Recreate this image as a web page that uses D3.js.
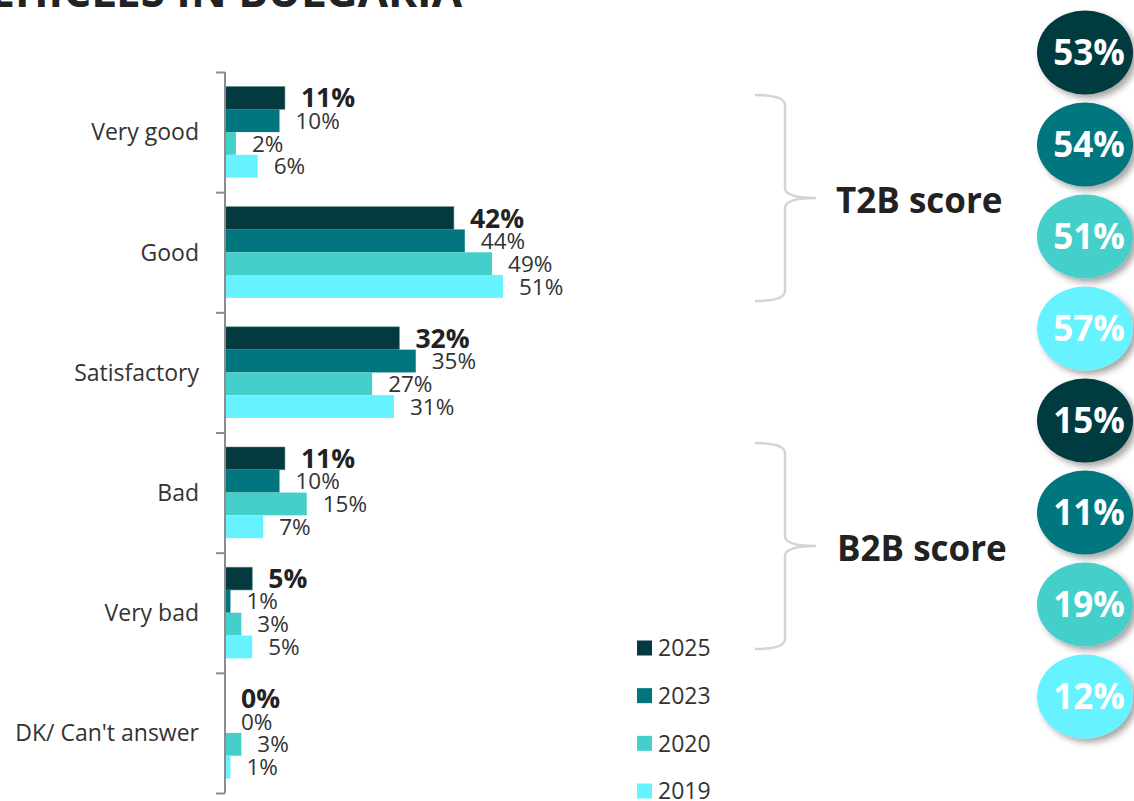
<!DOCTYPE html>
<html>
<head>
<meta charset="utf-8">
<script src="https://cdn.jsdelivr.net/npm/d3@7"></script>
<style>
body { margin: 0; background: #fff; }
svg { display: block; font-family: "Open Sans", sans-serif; }
.cat { font-size: 23px; fill: #333; }
.val { font-size: 22.5px; fill: #333; }
.val.bold { font-size: 26.5px; font-weight: bold; fill: #222; }
.legend text { font-size: 23px; fill: #333; }
.score { font-size: 35px; font-weight: bold; fill: #222; }
.bubble text { font-size: 35px; font-weight: bold; fill: #fff; }
</style>
</head>
<body>
<div id="chart"></div>
<script>

// answers shown on the left axis
var categories = ["Very good", "Good", "Satisfactory", "Bad", "Very bad", "DK/ Can't answer"];
var years = ["2025", "2023", "2020", "2019"];

// share of answers, percent
var v2025 = [11, 42, 32, 11, 5, 0];
var v2023 = [10, 44, 35, 10, 1, 0];
var v2020 = [2, 49, 27, 15, 3, 3];
var v2019 = [6, 51, 31, 7, 5, 1];

// top 2 box / bottom 2 box per year
var t2b = [53, 54, 51, 57];
var b2b = [15, 11, 19, 12];

var colors = ["#033a3f", "#01767f", "#44cfcb", "#66f2ff"];

var series = [v2025, v2023, v2020, v2019];

function init(){
	var width = 1134, height = 801;
	var svg = d3.select("#chart").append("svg")
		.attr("width", width)
		.attr("height", height);

	var defs = svg.append("defs");
	var f = defs.append("filter").attr("id", "shadow")
		.attr("x", "-20%").attr("y", "-20%").attr("width", "150%").attr("height", "150%");
	f.append("feDropShadow").attr("dx", 4).attr("dy", 4)
		.attr("stdDeviation", 3).attr("flood-color", "#000").attr("flood-opacity", 0.35);

	// title, cut off by the top of the picture
	svg.append("text")
		.attr("x", 462).attr("y", 7)
		.attr("text-anchor", "end")
		.style("font-size", "44px").style("font-weight", "bold").style("fill", "#222")
		.text("VEHICLES IN BULGARIA");

	var axisX = 225;
	var x = d3.scaleLinear().domain([0, 100]).range([axisX, axisX + 545]);
	var y = d3.scaleBand().domain(categories).range([72, 793]).padding(0);
	var yInner = d3.scaleBand().domain(years)
		.range([14.5, y.bandwidth() - 14.5]).padding(0);

	// bars
	years.forEach(function(yr, j){
		var g = svg.append("g").attr("class", "series");
		g.selectAll("rect")
			.data(series[j])
			.enter().append("rect")
			.attr("x", x(0))
			.attr("y", function(d, i){ return y(categories[i]) + yInner(yr); })
			.attr("width", function(d){ return x(d) - x(0); })
			.attr("height", yInner.bandwidth())
			.attr("fill", colors[j])
			.attr("stroke", j == 0 ? "#5f8a8d" : "none")
			.attr("stroke-width", 0.6);

		g.selectAll("text")
			.data(series[j])
			.enter().append("text")
			.attr("class", j == 0 ? "val bold" : "val")
			.attr("x", function(d){ return x(d) + 16; })
			.attr("y", function(d, i){ return y(categories[i]) + yInner(yr) + yInner.bandwidth() / 2; })
			.attr("dy", "0.36em")
			.text(function(d){ return d + "%"; });
	});

	// axis line with ticks between categories
	var bounds = categories.map(function(c){ return y(c); }).concat([y.range()[1]]);
	var yLin = d3.scaleLinear().domain([0, 1]).range([0, 1]);
	var axis = svg.append("g")
		.attr("transform", "translate(" + axisX + ",0)")
		.call(d3.axisLeft(yLin).tickValues(bounds).tickFormat("").tickSize(9).tickSizeOuter(0));
	axis.select(".domain").remove();
	axis.append("line")
		.attr("x1", 0).attr("x2", 0)
		.attr("y1", bounds[0]).attr("y2", bounds[bounds.length - 1])
		.attr("stroke", "#8c8c8c").attr("stroke-width", 2);
	axis.selectAll(".tick line").attr("stroke", "#8c8c8c").attr("stroke-width", 2);

	svg.append("g").selectAll("text")
		.data(categories)
		.enter().append("text")
		.attr("class", "cat")
		.attr("x", 199)
		.attr("y", function(d){ return y(d) + y.bandwidth() / 2; })
		.attr("dy", "0.36em")
		.attr("text-anchor", "end")
		.text(function(d){ return d; });

	// legend
	var leg = svg.append("g").attr("class", "legend");
	var ly = d3.scalePoint().domain(years).range([648, 791]);
	years.forEach(function(yr, j){
		leg.append("rect")
			.attr("x", 637).attr("y", ly(yr) - 7.5)
			.attr("width", 15).attr("height", 15)
			.attr("fill", colors[j]);
		leg.append("text")
			.attr("x", 658).attr("y", ly(yr))
			.attr("dy", "0.36em")
			.text(yr);
	});

	// braces
	function brace(y0, y1, ym){
		var x0 = 755, x1 = 785, tip = 816, r = 10;
		var p = d3.path();
		p.moveTo(x0, y0);
		p.quadraticCurveTo(x1, y0, x1, y0 + r);
		p.lineTo(x1, ym - r);
		p.quadraticCurveTo(x1, ym, tip, ym);
		p.quadraticCurveTo(x1, ym, x1, ym + r);
		p.lineTo(x1, y1 - r);
		p.quadraticCurveTo(x1, y1, x0, y1);
		svg.append("path")
			.attr("d", p.toString())
			.attr("fill", "none")
			.attr("stroke", "#d4d4d4")
			.attr("stroke-width", 2.5);
	}
	brace(95, 301, 198);
	brace(443, 649, 546);

	svg.append("text").attr("class", "score")
		.attr("x", 836).attr("y", 200).attr("dy", "0.36em").text("T2B score");
	svg.append("text").attr("class", "score")
		.attr("x", 837).attr("y", 548).attr("dy", "0.36em").text("B2B score");

	// score bubbles
	var bubbles = t2b.concat(b2b);
	var by = d3.scaleLinear().domain([0, 7]).range([52.5, 696.5]);
	var bg = svg.append("g").attr("class", "bubble");
	bubbles.forEach(function(v, i){
		bg.append("ellipse")
			.attr("cx", 1085).attr("cy", by(i))
			.attr("rx", 48).attr("ry", 42)
			.attr("fill", colors[i % 4])
			.attr("filter", "url(#shadow)");
		bg.append("text")
			.attr("x", 1089).attr("y", by(i))
			.attr("dy", "0.36em")
			.attr("text-anchor", "middle")
			.text(v + "%");
	});
}

window.onload = init;
</script>
</body>
</html>
